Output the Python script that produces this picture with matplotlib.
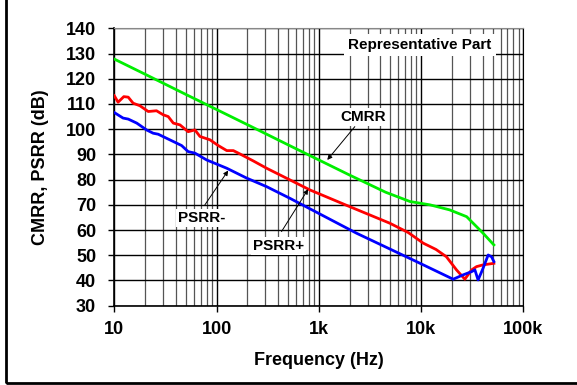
import numpy as np
import matplotlib
matplotlib.use("Agg")
import matplotlib.pyplot as plt
from matplotlib.patches import Rectangle
from matplotlib.ticker import LogLocator, FixedLocator, NullFormatter

plt.rcParams["font.family"] = ["Liberation Sans", "DejaVu Sans"]
plt.rcParams["font.weight"] = "bold"

# values (Hz, dB)
cmrr_f = [10, 20, 50, 100, 200, 500, 1000, 2000, 3000, 4500, 7800, 12200, 19000, 27900, 40500, 51500]
cmrr_db = [127.8, 121.8, 113.8, 107.8, 101.8, 93.8, 87.8, 81.8, 78.4, 75.0, 71.3, 70.0, 68.0, 65.3, 58.7, 54.1]

psrrp_f = [10, 10.9, 12.4, 13.7, 15.3, 17.8, 21.5, 25.9, 30.1, 33.7, 37.8, 43.9, 52.8, 61.5, 68.9,
           86.1, 104, 126, 146, 169, 229, 309, 521, 819, 2000, 4950, 7500, 10500, 14000, 17700,
           22200, 26800, 31200, 34900, 40500, 51500]
psrrp_db = [113.3, 110.7, 112.9, 112.7, 110.3, 109.3, 107.0, 107.3, 105.7, 105.0, 102.4, 101.7,
            99.0, 99.7, 97.1, 95.8, 93.5, 91.5, 91.5, 90.2, 87.4, 84.5, 79.9, 75.9, 69.3, 62.7,
            59.0, 54.8, 52.3, 49.4, 44.2, 40.5, 44.2, 45.5, 46.2, 46.8]

psrrm_f = [10, 12.2, 13.7, 16.6, 20.7, 24.0, 26.9, 37.8, 45.6, 52.8, 61.5, 80.0, 126, 197,
           309, 521, 2350, 9000, 20600, 25700, 31200, 33600, 36100, 39800, 45300, 48900, 51500]
psrrm_db = [106.6, 104.4, 104.0, 102.4, 99.7, 98.4, 98.0, 95.1, 93.5, 91.1, 90.5, 87.8, 84.5,
            80.6, 77.2, 72.6, 58.7, 47.5, 40.5, 42.2, 43.5, 44.2, 40.2, 44.2, 50.1, 49.4, 47.5]

y_ticks = list(range(30, 141, 10))
x_ticks = [10, 100, 1000, 10000, 100000]
x_labels = ["10", "100", "1k", "10k", "100k"]

fig = plt.figure(figsize=(5.77, 3.85), dpi=100)
ax = fig.add_axes([0.198, 0.206, 0.709, 0.7205])

ax.plot(cmrr_f, cmrr_db, color="#00ee00", lw=2, zorder=3)
ax.plot(psrrp_f, psrrp_db, color="#ff0000", lw=2, zorder=3)
ax.plot(psrrm_f, psrrm_db, color="#0000ff", lw=2, zorder=3)

ax.set_xscale("log")
ax.set_xlim(10, 100000)
ax.set_ylim(30, 140)
ax.xaxis.set_major_locator(FixedLocator(x_ticks))
ax.set_xticklabels(x_labels)
ax.xaxis.set_minor_locator(LogLocator(base=10, subs=np.arange(2, 10), numticks=20))
ax.xaxis.set_minor_formatter(NullFormatter())
ax.set_yticks(y_ticks)

ax.grid(True, which="major", axis="y", color="black", lw=1.0)
ax.grid(True, which="major", axis="x", color="black", lw=1.0)
ax.grid(True, which="minor", axis="x", color="#555555", lw=0.9)
ax.tick_params(which="major", direction="out", length=4, width=1, labelsize=13)
ax.tick_params(axis="y", pad=9)
ax.tick_params(axis="x", pad=7)
ax.tick_params(which="minor", length=0)
for sp in ["left", "bottom"]:
    ax.spines[sp].set_linewidth(1.2)
ax.spines["top"].set_color("#888888")
ax.spines["right"].set_color("black")

ax.set_xlabel("Frequency (Hz)", fontsize=13, fontweight="bold", labelpad=10)
ax.set_ylabel("CMRR, PSRR (dB)", fontsize=13, fontweight="bold", labelpad=12)

box = dict(facecolor="white", edgecolor="none", pad=1.5)
arrow = dict(arrowstyle="-|>", color="black", lw=0.7, mutation_scale=7, shrinkA=0, shrinkB=0)

ax.text(9730, 133.5, "Representative Part", fontsize=11, fontweight="bold",
        ha="center", va="center", bbox=dict(facecolor="white", edgecolor="none", pad=3), zorder=5)

ax.text(2720, 104.8, "CMRR", fontsize=11, fontweight="bold", ha="center", va="center",
        bbox=box, zorder=5)
ax.annotate("", xy=(1210, 87.8), xytext=(2250, 101), arrowprops=arrow, zorder=5)

ax.text(71.5, 64.7, "PSRR-", fontsize=11, fontweight="bold", ha="center", va="center",
        bbox=box, zorder=5)
ax.annotate("", xy=(130, 83.6), xytext=(77, 70), arrowprops=arrow, zorder=5)

ax.text(401, 53.8, "PSRR+", fontsize=11, fontweight="bold", ha="center", va="center",
        bbox=box, zorder=5)
ax.annotate("", xy=(787, 76.2), xytext=(432, 59.4), arrowprops=arrow, zorder=5)

fig.patches.append(Rectangle((6 / 577, 2 / 385), 1.0, 1.0, transform=fig.transFigure,
                             fill=False, edgecolor="black", lw=2.0, clip_on=False))

fig.savefig("out.png", dpi=100)
